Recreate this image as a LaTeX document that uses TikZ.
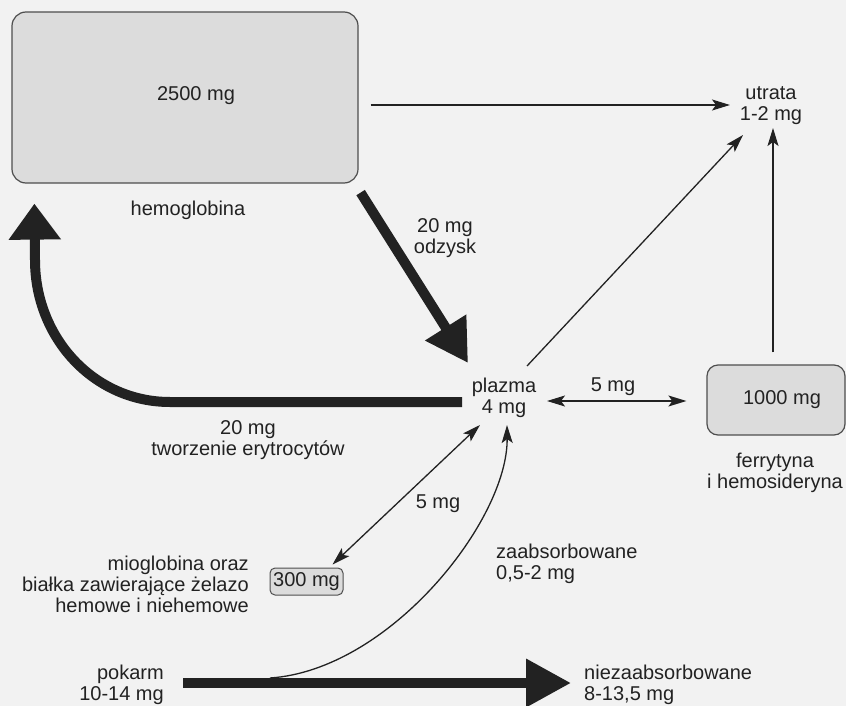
\documentclass[tikz,border=0pt]{standalone}
\usepackage{fontspec}
\setmainfont{Liberation Sans}
\usetikzlibrary{arrows.meta,calc}
\definecolor{bg}{HTML}{F2F2F2}
\definecolor{boxfill}{HTML}{DCDCDC}
\definecolor{ink}{HTML}{222222}
\begin{document}
\begin{tikzpicture}[x=1pt,y=-1pt,
  every node/.style={font=\fontsize{20}{21}\selectfont, text=ink, inner sep=0pt},
  lbl/.style={align=center},
  store/.style={draw=ink!80, fill=boxfill, line width=1.2pt, rounded corners=14pt},
  thinarr/.style={draw=ink, line width=1.3pt, -{Stealth[length=18pt,width=11pt,inset=4pt]}},
  thinboth/.style={draw=ink, line width=1.3pt, {Stealth[length=18pt,width=11pt,inset=4pt]}-{Stealth[length=18pt,width=11pt,inset=4pt]}},
  thickarr/.style={draw=ink, line width=10pt},
]
\fill[bg] (0,0) rectangle (846,706);
\useasboundingbox (0,0) rectangle (846,706);

% stores
\node[store, minimum width=346pt, minimum height=171pt] (hb) at (185,97.5) {};
\node (hbval) at (196,96) {2500 mg};
\node (hblab) at (188,210) {hemoglobina};
\node[store, rounded corners=11pt, minimum width=138pt, minimum height=70pt] (ferr) at (776,400) {\hspace*{12pt}1000 mg};
\node[lbl] (ferrlab) at (775,473) {ferrytyna\\i hemosideryna};
\node[store, rounded corners=5pt, line width=1pt, minimum width=73pt, minimum height=27pt] (mio) at (306.5,581.5) {300 mg};
\node[align=right, anchor=east] (miolab) at (249,584) {mioglobina oraz\\białka zawierające żelazo\\hemowe i niehemowe};

% labels / pools
\node[lbl] (utrata) at (771,106) {utrata\\1-2 mg};
\node[lbl] (plazma) at (504,398) {plazma\\4 mg};
\node[align=left, anchor=west] (zaabs) at (496,563.5) {zaabsorbowane\\0,5-2 mg};
\node[align=right, anchor=east] (pokarm) at (164,685) {pokarm\\10-14 mg};
\node[align=left, anchor=west] (niezaabs) at (584,685) {niezaabsorbowane\\8-13,5 mg};
\node[lbl] (odzysk) at (445,238) {20 mg\\odzysk};
\node[lbl] (tworz) at (248,440) {20 mg\\tworzenie erytrocytów};
\node (ferrflow) at (613,387) {5 mg};
\node (mioflow) at (438,504) {5 mg};

% thin connectors
\draw[thinarr] ($(hb.east)+(12,7.5)$) -- ($(utrata)+(-41,-1)$);
\draw[thinarr] ($(plazma)+(23,-32)$) -- ($(utrata)+(-28,29)$);
\draw[thinarr] ($(ferr.north)+(-3,-12)$) -- ($(utrata)+(2,22)$);
\draw[thinboth] ($(plazma)+(43,3)$) -- ($(ferr.west)+(-20,1)$);
\draw[thinboth] ($(plazma)+(-24,27)$) -- ($(mio.north east)+(-11,-3)$);

% thick connectors
\draw[thickarr, -{Triangle[length=42pt,width=46pt]}] ($(hb.south east)+(2,9)$) -- ($(plazma)+(-36,-35)$);
\draw[thickarr, -{Triangle[length=36pt,width=50pt]}] ($(plazma)+(-42,4)$) -- (170,402)
  .. controls (94,402) and (35,338) .. (35,260) -- ($(hb.south west)+(23,20)$);
\draw[thickarr, -{Triangle[length=45pt,width=46pt]}] ($(pokarm.east)+(19,-2)$) -- ($(niezaabs.west)+(-13,-2)$);
\coordinate (fork) at ($(pokarm.east)+(106,-7)$);
\draw[thinarr] (fork) .. controls (390,670) and (508,520) .. ($(plazma)+(3,27)$);
\end{tikzpicture}
\end{document}
